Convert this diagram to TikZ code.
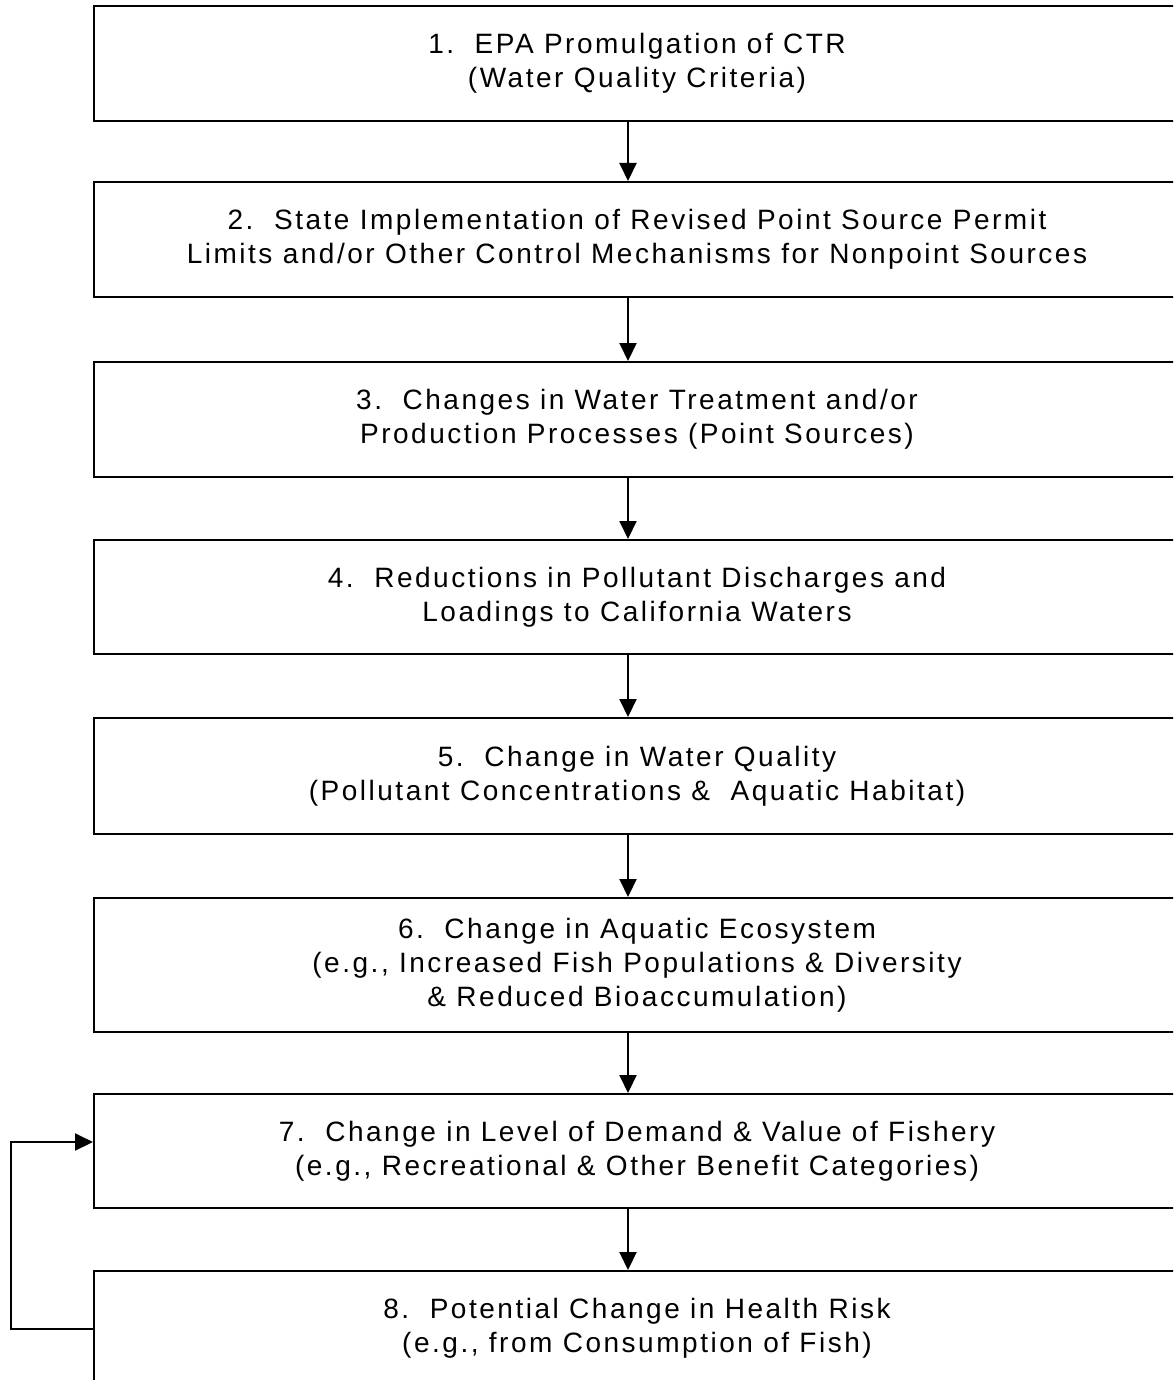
\documentclass[tikz,border=0pt]{standalone}
\usepackage{fontspec}
\setmainfont{Liberation Sans}[LetterSpace=9]
\usetikzlibrary{arrows.meta}
\begin{document}
\begin{tikzpicture}[x=1pt,y=-1pt,
  box/.style={draw,line width=2pt,minimum width=1086pt,inner sep=0pt,align=center,
    font=\fontsize{28}{34}\selectfont},
  flow/.style={line width=2pt,-{Triangle[length=18pt,width=17pt]}}]
\clip (0,0) rectangle (1173,1380);
\fill[white] (0,0) rectangle (1173,1380);
\node[box,minimum height=115pt] (b1) at (637,63.5) {1.\ \ EPA Promulgation of CTR\\(Water Quality Criteria)};
\node[box,minimum height=115pt] (b2) at (637,239.5) {2.\ \ State Implementation of Revised Point Source Permit\\Limits and/or Other Control Mechanisms for Nonpoint Sources};
\node[box,minimum height=115pt] (b3) at (637,419.5) {3.\ \ Changes in Water Treatment and/or\\Production Processes (Point Sources)};
\node[box,minimum height=114pt] (b4) at (637,597) {4.\ \ Reductions in Pollutant Discharges and\\Loadings to California Waters};
\node[box,minimum height=116pt] (b5) at (637,776) {5.\ \ Change in Water Quality\\(Pollutant Concentrations \&\ \ Aquatic Habitat)};
\node[box,minimum height=134pt] (b6) at (637,965) {6.\ \ Change in Aquatic Ecosystem\\(e.g., Increased Fish Populations \& Diversity\\\& Reduced Bioaccumulation)};
\node[box,minimum height=114pt] (b7) at (637,1151) {7.\ \ Change in Level of Demand \& Value of Fishery\\(e.g., Recreational \& Other Benefit Categories)};
\node[box,minimum height=115pt] (b8) at (637,1328.5) {8.\ \ Potential Change in Health Risk\\(e.g., from Consumption of Fish)};
\coordinate (ax) at (628,0);
\coordinate (fx) at (11,0);
\coordinate (fy) at (0,1142);
\draw[flow] (b1.south -| ax) -- (b2.north -| ax);
\draw[flow] (b2.south -| ax) -- (b3.north -| ax);
\draw[flow] (b3.south -| ax) -- (b4.north -| ax);
\draw[flow] (b4.south -| ax) -- (b5.north -| ax);
\draw[flow] (b5.south -| ax) -- (b6.north -| ax);
\draw[flow] (b6.south -| ax) -- (b7.north -| ax);
\draw[flow] (b7.south -| ax) -- (b8.north -| ax);
\draw[flow] (b8.west) -- (b8.west -| fx) -- (fx |- fy) -- (b7.west |- fy);
\end{tikzpicture}
\end{document}
